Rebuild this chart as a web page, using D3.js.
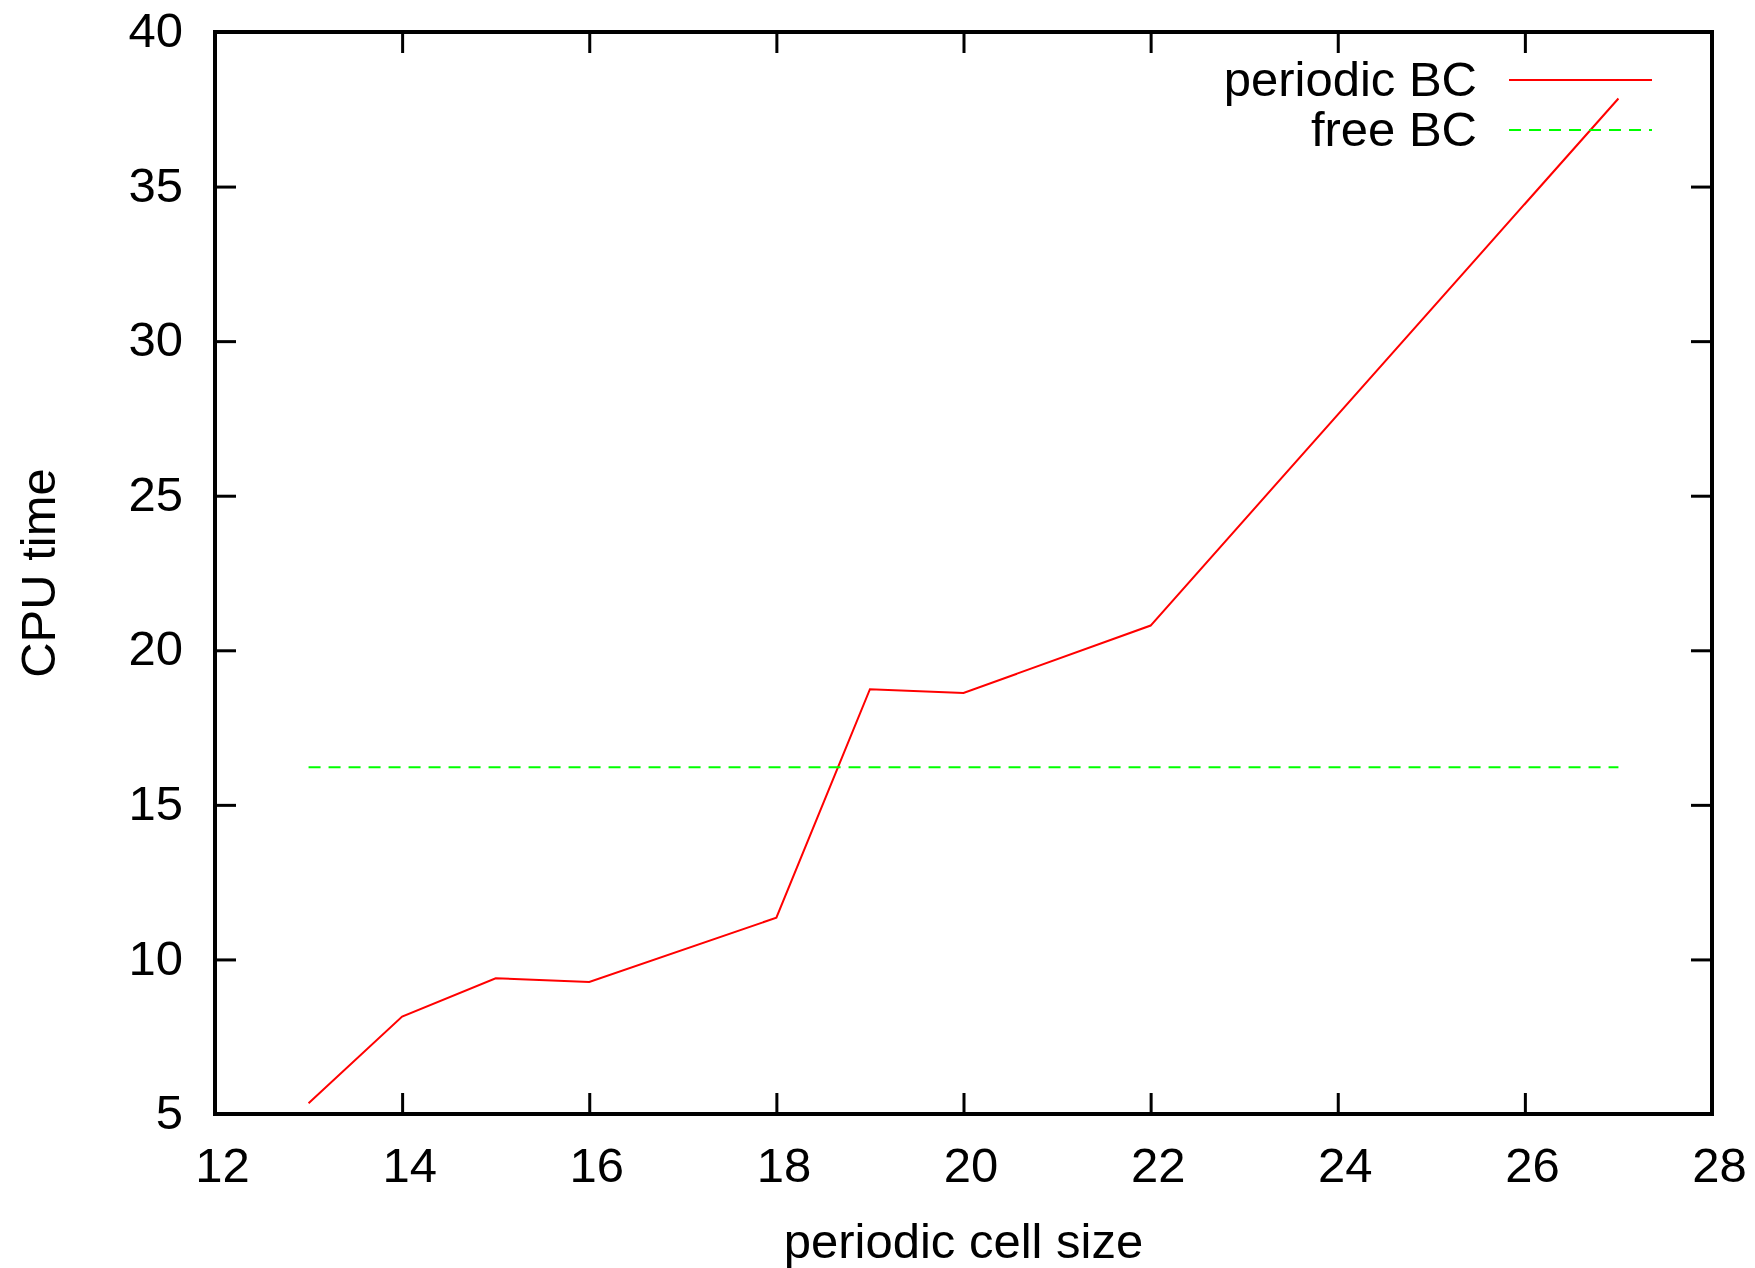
<!DOCTYPE html>
<html>
<head>
<meta charset="utf-8">
<script src="https://cdn.jsdelivr.net/npm/d3@7"></script>
<style>
    body { margin: 0; background: #fff; }
    svg { display: block; font-family: "Liberation Sans", Arial, sans-serif; }
</style>
</head>
<body>
<script>
// data
const cellSize = [13, 14, 15, 16, 18, 19, 20, 22, 27];
const periodicTime = [5.35, 8.15, 9.39, 9.27, 11.35, 18.74, 18.62, 20.80, 37.85];
const freeRange = [13, 27];
const freeTime = 16.22;
const xTicks = [12, 14, 16, 18, 20, 22, 24, 26, 28];
const yTicks = [5, 10, 15, 20, 25, 30, 35, 40];
const seriesNames = ['periodic BC', 'free BC'];

const width = 1755, height = 1268;
const margin = {left: 215, right: 43, top: 32, bottom: 154};
const fontSize = 49;
const tickLen = 21;

const svg = d3.select('body').append('svg')
    .attr('width', width)
    .attr('height', height);

const x = d3.scaleLinear().domain([12, 28]).range([margin.left, width - margin.right]);
const y = d3.scaleLinear().domain([5, 40]).range([height - margin.bottom, margin.top]);

// axes: inward ticks on all four sides
const styleAxis = (g) => {
    g.attr('font-size', fontSize).attr('font-family', null);
    g.select('.domain').remove();
    g.selectAll('.tick line').attr('stroke', '#000').attr('stroke-width', 3);
    g.selectAll('.tick text').attr('fill', '#000');
};

svg.append('g')
    .attr('transform', `translate(0,${y(5)})`)
    .call(d3.axisBottom(x).tickValues(xTicks).tickSizeInner(-tickLen).tickSizeOuter(0).tickPadding(33))
    .call(styleAxis)
    .selectAll('.tick text').attr('dx', 7);

svg.append('g')
    .attr('transform', `translate(0,${y(40)})`)
    .call(d3.axisTop(x).tickValues(xTicks).tickSizeInner(-tickLen).tickSizeOuter(0).tickFormat(''))
    .call(styleAxis);

svg.append('g')
    .attr('transform', `translate(${x(12)},0)`)
    .call(d3.axisLeft(y).tickValues(yTicks).tickSizeInner(-tickLen).tickSizeOuter(0).tickPadding(32))
    .call(styleAxis)
    .selectAll('.tick text').attr('dy', '0.3em');

svg.append('g')
    .attr('transform', `translate(${x(28)},0)`)
    .call(d3.axisRight(y).tickValues(yTicks).tickSizeInner(-tickLen).tickSizeOuter(0).tickFormat(''))
    .call(styleAxis);

// plot border
svg.append('rect')
    .attr('x', x(12))
    .attr('y', y(40))
    .attr('width', x(28) - x(12))
    .attr('height', y(5) - y(40))
    .attr('fill', 'none')
    .attr('stroke', '#000')
    .attr('stroke-width', 4);

// axis titles
svg.append('text')
    .attr('x', (x(12) + x(28)) / 2)
    .attr('y', 1258)
    .attr('text-anchor', 'middle')
    .attr('font-size', fontSize)
    .text('periodic cell size');

svg.append('text')
    .attr('transform', `translate(55,${(y(5) + y(40)) / 2}) rotate(-90)`)
    .attr('text-anchor', 'middle')
    .attr('font-size', fontSize)
    .text('CPU time');

// series
const line = d3.line()
    .x(d => x(d[0]))
    .y(d => y(d[1]));

svg.append('path')
    .datum(d3.zip(cellSize, periodicTime))
    .attr('d', line)
    .attr('fill', 'none')
    .attr('stroke', '#ff0000')
    .attr('stroke-width', 2);

svg.append('path')
    .datum(freeRange.map(v => [v, freeTime]))
    .attr('d', line)
    .attr('fill', 'none')
    .attr('stroke', '#00ff00')
    .attr('stroke-width', 2)
    .attr('stroke-dasharray', '12,8');

// legend
const legendStyles = [
    {color: '#ff0000', dash: null},
    {color: '#00ff00', dash: '12,8'}
];
const legend = svg.append('g');
seriesNames.forEach((name, i) => {
    const rowY = 80 + i * 50;
    legend.append('text')
        .attr('x', 1477)
        .attr('y', rowY + 16)
        .attr('text-anchor', 'end')
        .attr('font-size', fontSize)
        .text(name);
    legend.append('line')
        .attr('x1', 1509)
        .attr('x2', 1652)
        .attr('y1', rowY)
        .attr('y2', rowY)
        .attr('stroke', legendStyles[i].color)
        .attr('stroke-width', 2)
        .attr('stroke-dasharray', legendStyles[i].dash);
});
</script>
</body>
</html>
